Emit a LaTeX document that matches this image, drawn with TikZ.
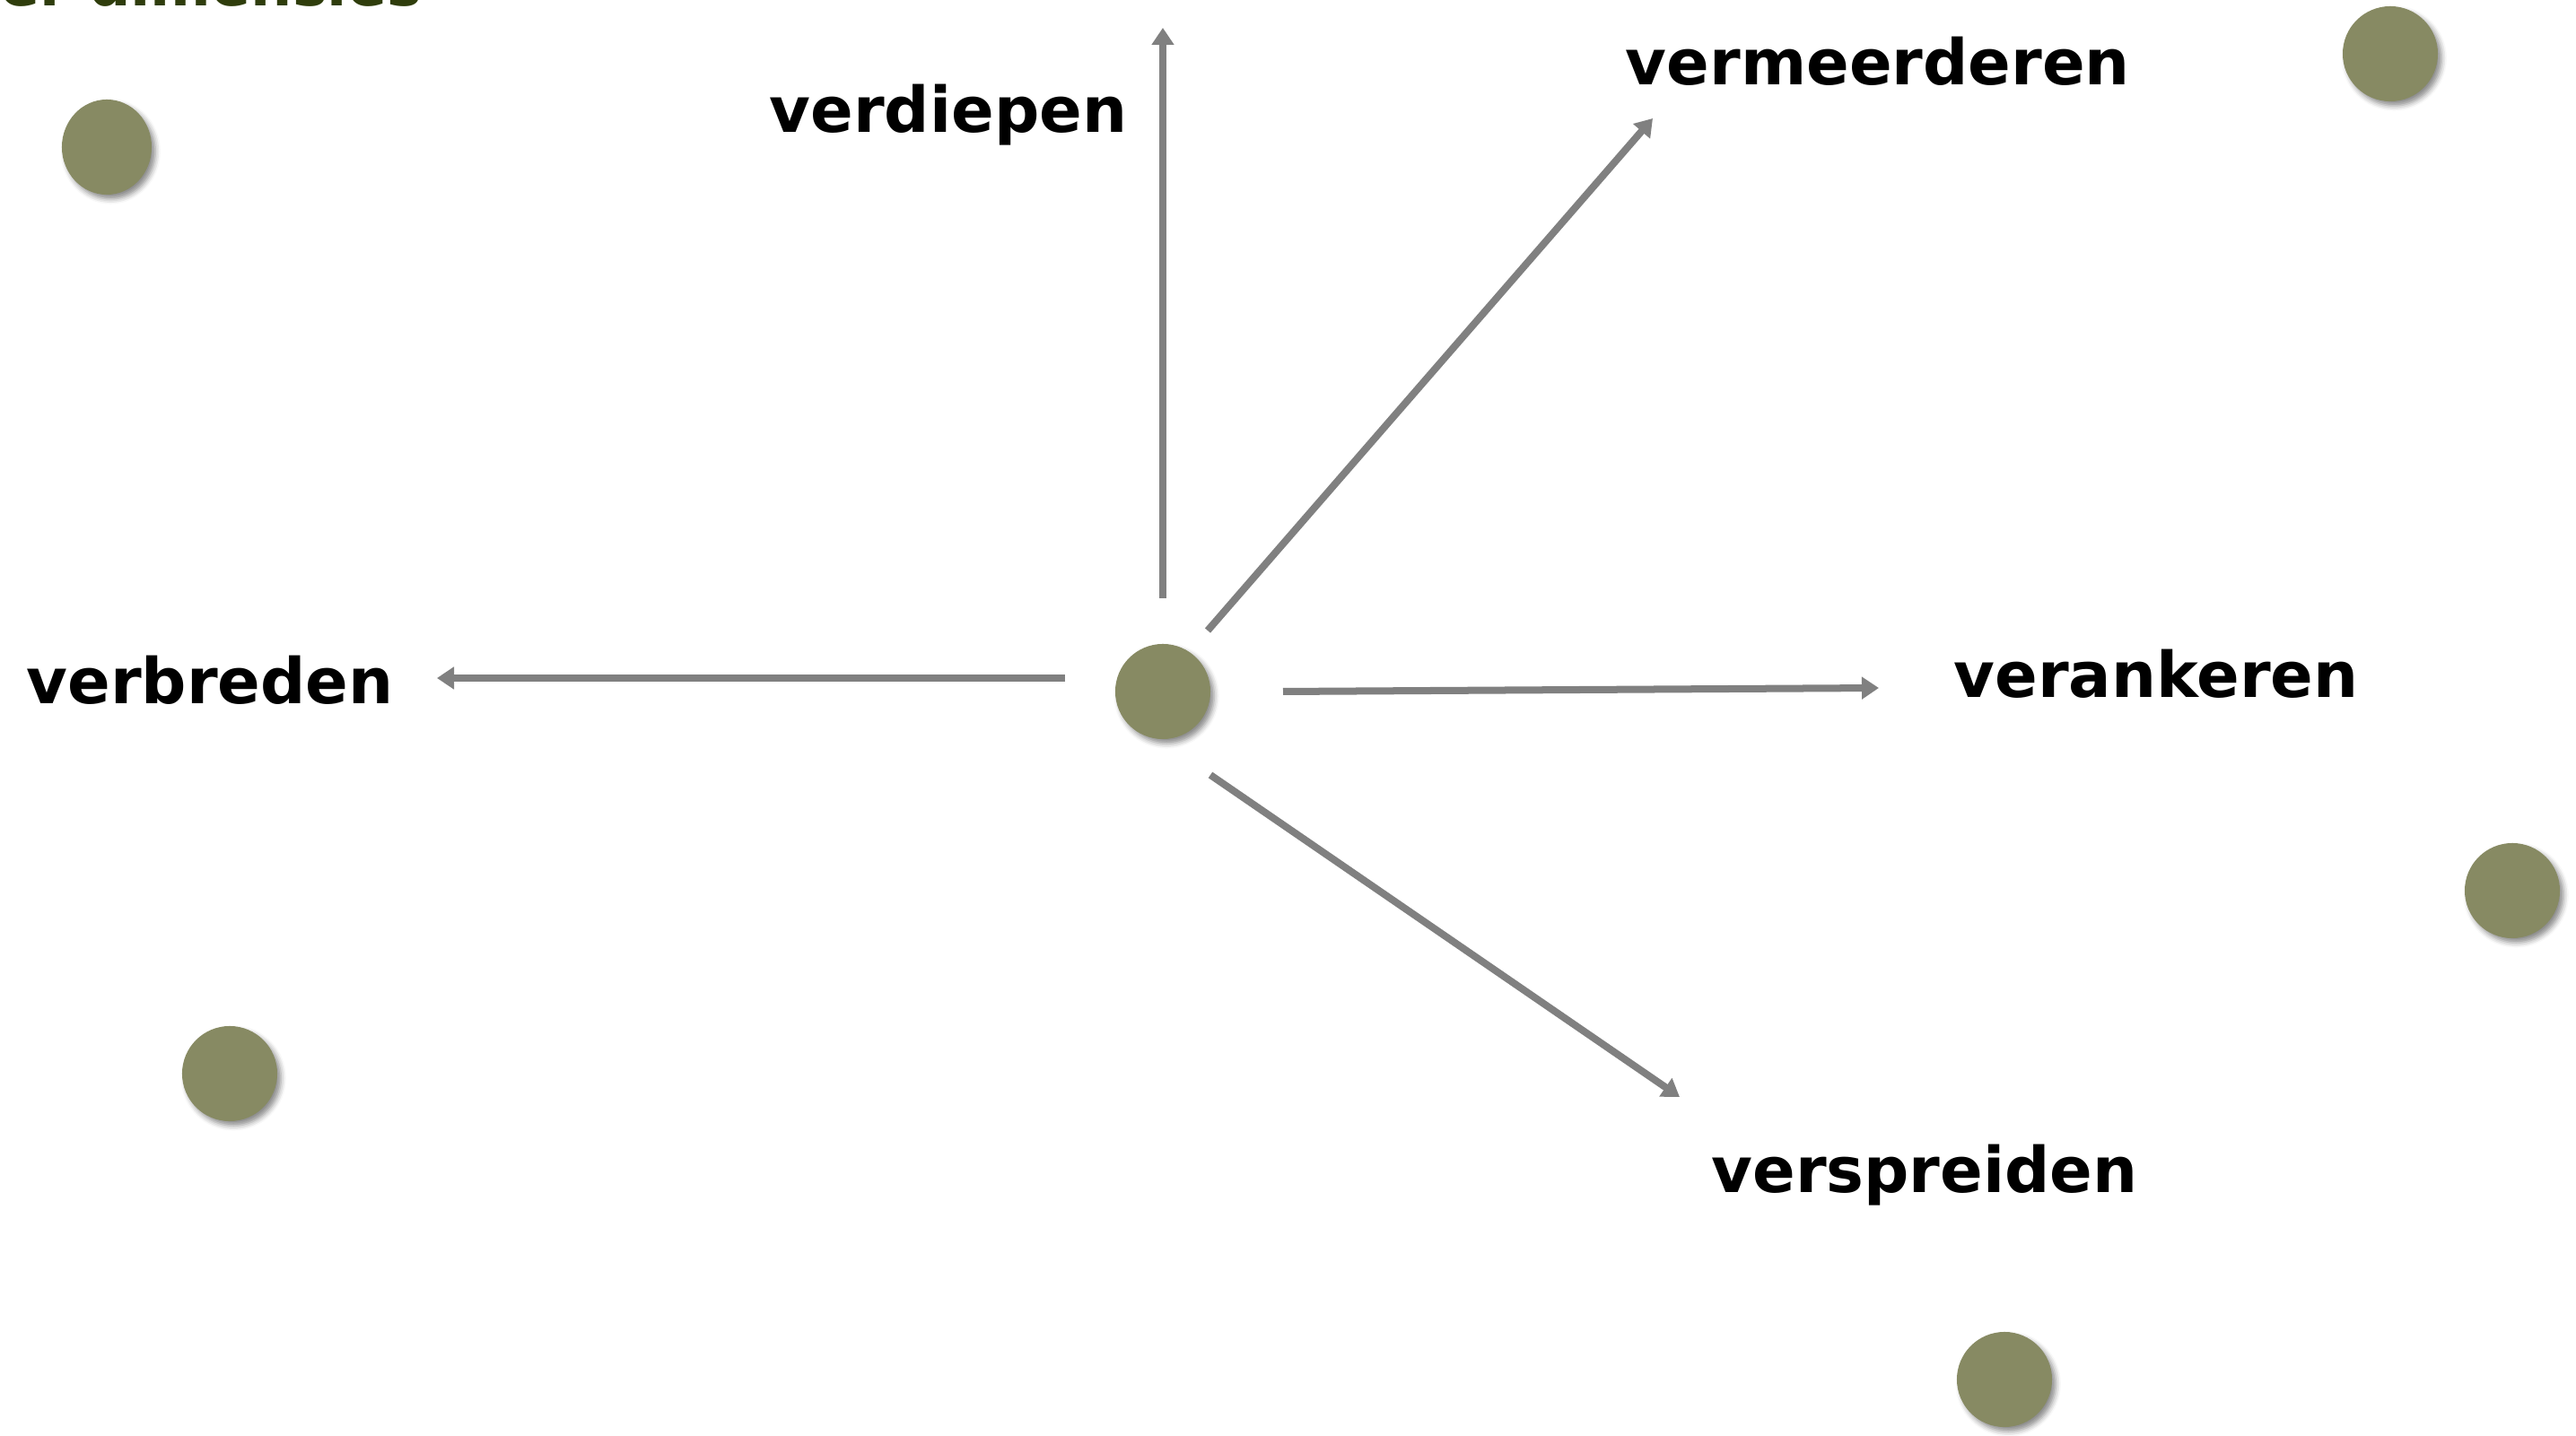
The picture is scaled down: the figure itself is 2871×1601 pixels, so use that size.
\documentclass[tikz,border=0pt]{standalone}
\usepackage{fontspec}
\setmainfont{DejaVu Sans}
\usetikzlibrary{arrows.meta,shapes.geometric,shadows.blur}
\definecolor{dot}{HTML}{878A63}
\definecolor{arr}{HTML}{808080}
\definecolor{ttl}{HTML}{2F3D0C}
\tikzset{
  dotnode/.style={circle,fill=dot,inner sep=0pt,minimum size=1.06cm,
    blur shadow={shadow xshift=1.2pt,shadow yshift=-1.4pt,shadow blur radius=1.6pt,shadow opacity=45}},
  lbl/.style={anchor=base,font=\bfseries\fontsize{20}{23}\selectfont,text=black,inner sep=0pt},
  con/.style={draw=arr,line width=0.08cm,-{Triangle[length=0.19cm,width=0.24cm]}}
}
\begin{document}
\begin{tikzpicture}[x=0.01cm,y=-0.01cm]
\useasboundingbox (0,0) rectangle (2871,1601);
% partially visible title
\node[anchor=base west,inner sep=0pt,text=ttl,font=\bfseries\fontsize{18.5}{22}\selectfont] (title) at (-72,7) {Vier dimensies};
% dots
\node[dotnode,ellipse,minimum width=1.0cm,minimum height=1.06cm] (c1) at (119,164) {};
\node[dotnode] (c2) at (2664,60) {};
\node[dotnode] (c3) at (2800,993) {};
\node[dotnode] (c4) at (256,1197) {};
\node[dotnode] (c5) at (2234,1538) {};
\node[dotnode] (c0) at (1296,771) {};
% labels
\node[lbl] (ldiep) at (1057,148) {verdiepen};
\node[lbl] (lmeer) at (2093,95) {vermeerderen};
\node[lbl] (lbreed) at (234,785) {verbreden};
\node[lbl] (lanker) at (2403,778) {verankeren};
\node[lbl] (lspread) at (2145,1330) {verspreiden};
% connector ends
\coordinate (s1) at (1296,667);
\coordinate (e1) at (1296,31);
\coordinate (s2) at (1346,703);
\coordinate (e2) at (1842,132);
\coordinate (s3) at (1430,771);
\coordinate (e3) at (2094,767);
\coordinate (s4) at (1187,756);
\coordinate (e4) at (487,756);
\coordinate (s5) at (1349,864);
\coordinate (e5) at (1872,1223);
\draw[con] (s1) -- (e1);
\draw[con] (s2) -- (e2);
\draw[con] (s3) -- (e3);
\draw[con] (s4) -- (e4);
\draw[con] (s5) -- (e5);
\end{tikzpicture}
\end{document}
